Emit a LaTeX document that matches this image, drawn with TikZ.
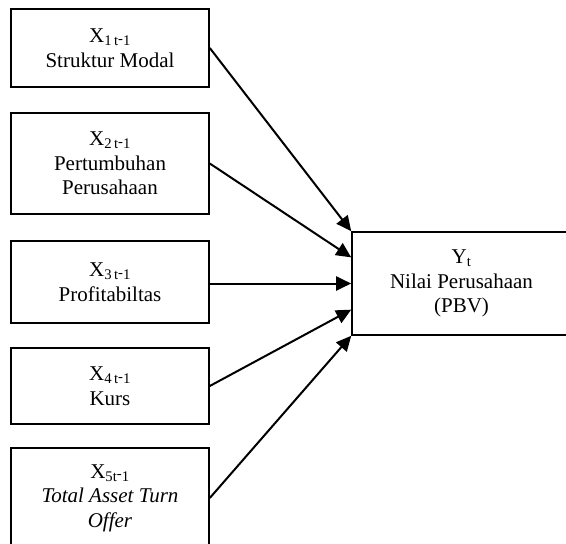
\documentclass[tikz,border=0pt]{standalone}
\usepackage{fontspec}
\setmainfont{Liberation Serif}
\usetikzlibrary{arrows.meta,calc}
\newcommand{\lagsub}[1]{\textsubscript{#1\,t\raisebox{.35ex}{-}1}}
\tikzset{
  varbox/.style={draw, line width=1.6pt, rectangle, inner sep=0pt, align=center,
    minimum width=198pt, font=\fontsize{21}{24.5}\selectfont},
  link/.style={line width=2pt, -{Triangle[length=15pt,width=14pt]}}
}
\begin{document}
\begin{tikzpicture}[x=1pt,y=-1pt]
\clip (0,0) rectangle (566,544);
\node[varbox, minimum height=78pt] (b1) at (110,48) {X\lagsub{1}\\Struktur Modal};
\node[varbox, minimum height=101pt] (b2) at (110,163.5) {X\lagsub{2}\\Pertumbuhan\\Perusahaan};
\node[varbox, minimum height=82pt] (b3) at (110,282) {X\lagsub{3}\\Profitabiltas};
\node[varbox, minimum height=76pt] (b4) at (110,386) {X\lagsub{4}\\Kurs};
\node[varbox, minimum height=100pt] (b5) at (110,498) {X\textsubscript{5t\raisebox{.35ex}{-}1}\\\textit{Total Asset Turn}\\\textit{Offer}};
\node[varbox, minimum width=219pt, minimum height=103pt] (y) at (461.5,283.5) {Y\textsubscript{t}\\Nilai Perusahaan\\(PBV)};
\coordinate (q1) at ($(y.north west)!0.25!(y.south west)$);
\coordinate (q3) at ($(y.north west)!0.75!(y.south west)$);
\draw[link] (b1.east) -- (y.north west);
\draw[link] (b2.east) -- (q1);
\draw[link] (b3.east |- y.west) -- (y.west);
\draw[link] (b4.east) -- (q3);
\draw[link] (b5.east) -- (y.south west);
\end{tikzpicture}
\end{document}
